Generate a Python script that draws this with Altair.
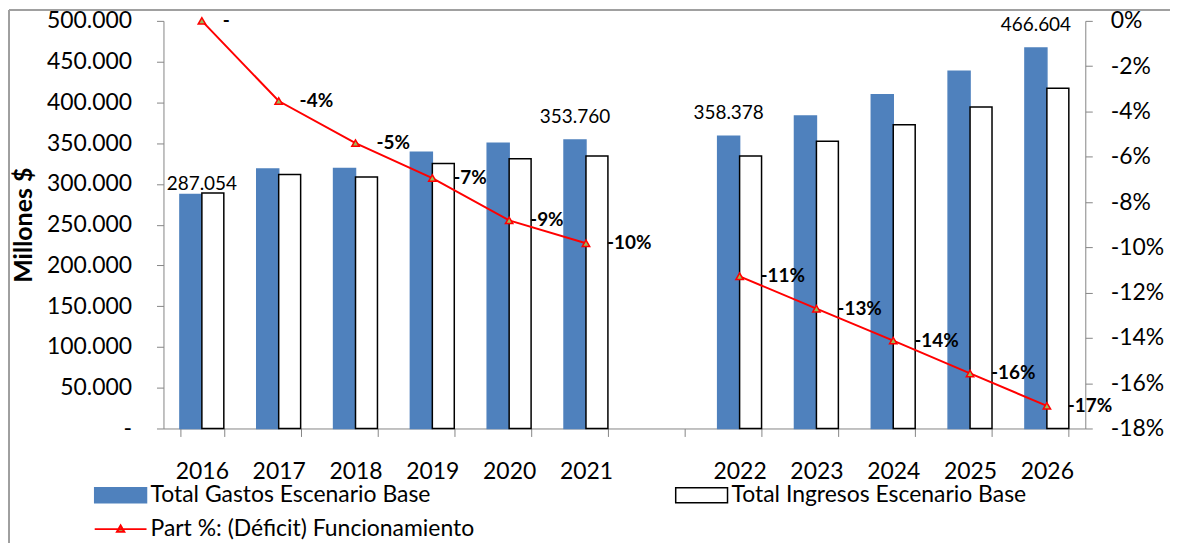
import altair as alt
import pandas as pd

# ---------------- data ----------------
years = ["2016", "2017", "2018", "2019", "2020", "2021",
         "2022", "2023", "2024", "2025", "2026"]
gastos = [287054, 318200, 318900, 339000, 350000, 353760,
          358378, 383400, 409400, 438100, 466604]
ingresos = [288800, 311600, 308400, 325000, 330800, 334100,
            334100, 352400, 372700, 394400, 417300]
deficit_pct = [0.0, -3.54, -5.40, -6.94, -8.81, -9.82,
               -11.28, -12.71, -14.12, -15.57, -17.00]
deficit_labels = ["-", "-4%", "-5%", "-7%", "-9%", "-10%",
                  "-11%", "-13%", "-14%", "-16%", "-17%"]
periodo = ["hist"] * 6 + ["proy"] * 5
labeled_years = ["2021", "2022", "2026"]
first_label_year = "2016"
x_domain = years[:6] + ["gap"] + years[6:]
left_ticks = [0, 50000, 100000, 150000, 200000, 250000, 300000,
              350000, 400000, 450000, 500000]
right_ticks = [0, -0.02, -0.04, -0.06, -0.08, -0.10, -0.12,
               -0.14, -0.16, -0.18]

S_G = "Total Gastos  Escenario Base"
S_I = "Total Ingresos Escenario Base"
S_L = "Part %: (Déficit) Funcionamiento"

bars_df = pd.DataFrame({
    "anio": years * 2,
    "serie": [S_G] * len(years) + [S_I] * len(years),
    "valor": gastos + ingresos,
})
bars_df["texto"] = bars_df["valor"].map(lambda v: f"{v:,}".replace(",", "."))

line_df = pd.DataFrame({
    "anio": years,
    "pct": [p / 100 for p in deficit_pct],
    "etiqueta": deficit_labels,
    "periodo": periodo,
    "linea": [S_L] * len(years),
})

# ---------------- style ----------------
FONT = "Lato"
BLUE = "#4F81BD"
GRAY = "#868686"

x_enc = alt.X(
    "anio:N",
    scale=alt.Scale(domain=x_domain, paddingInner=0.4286, paddingOuter=0.2143),
    axis=alt.Axis(
        title=None, labelAngle=0, tickBand="extent", tickSize=8,
        labelPadding=24, labelFont=FONT, labelFontSize=23, labelColor="black",
        domainColor=GRAY, tickColor=GRAY, grid=False,
        labelExpr="datum.value == 'gap' ? '' : datum.value",
    ),
)

y_left = alt.Y(
    "valor:Q",
    scale=alt.Scale(domain=[0, 500000], nice=False),
    axis=alt.Axis(
        title="Millones $", titleFont=FONT, titleFontSize=25, titleFontWeight="bold",
        titleColor="black", titlePadding=10,
        values=left_ticks, tickSize=7, labelPadding=25, grid=False,
        labelFont=FONT, labelFontSize=23, labelColor="black",
        domainColor=GRAY, tickColor=GRAY,
        labelExpr="datum.value == 0 ? '-' : replace(format(datum.value, ','), ',', '.')",
    ),
)

y_right = alt.Y(
    "pct:Q",
    scale=alt.Scale(domain=[-0.18, 0], nice=False),
    axis=alt.Axis(
        title=None, orient="right", values=right_ticks, tickSize=7,
        labelPadding=18, grid=False, labelFont=FONT, labelFontSize=23,
        labelColor="black", domainColor=GRAY, tickColor=GRAY,
        labelExpr="toString(round(datum.value * 100)) + '%'",
    ),
)

xoff = alt.XOffset("serie:N", scale=alt.Scale(domain=[S_G, S_I], paddingInner=0, paddingOuter=0))

bar_legend = alt.Legend(
    title=None, orient="none", legendX=-70, legendY=449, direction="horizontal",
    columns=2, columnPadding=237, padding=0,
    symbolType="M-1,-0.29H1V0.29H-1Z", symbolSize=2704, symbolStrokeWidth=1.5,
    symbolStrokeColor=alt.ExprRef(f"datum.value == '{S_I}' ? 'black' : '{BLUE}'"),
    labelFont=FONT, labelFontSize=23, labelColor="black", labelOffset=3, labelLimit=0,
)

line_legend = alt.Legend(
    title=None, orient="none", legendX=-70, legendY=483, padding=0,
    symbolType="M-1,0H1M-0.14,0.1L0,-0.14L0.14,0.1Z", symbolSize=2704,
    symbolStrokeWidth=2, symbolFillColor="#9BBB59",
    labelFont=FONT, labelFontSize=23, labelColor="black", labelOffset=3, labelLimit=0,
)

bars = alt.Chart(bars_df).mark_bar(strokeWidth=1.5).encode(
    x=x_enc,
    xOffset=xoff,
    y=y_left,
    fill=alt.Fill("serie:N", scale=alt.Scale(domain=[S_G, S_I], range=[BLUE, "white"]),
                  legend=bar_legend),
    stroke=alt.condition(alt.datum.serie == S_I, alt.value("black"), alt.value(BLUE)),
)

bar_labels = alt.Chart(bars_df).transform_filter(
    alt.FieldEqualPredicate(field="serie", equal=S_G)
).transform_filter(
    alt.FieldOneOfPredicate(field="anio", oneOf=labeled_years)
).mark_text(font=FONT, fontSize=19, baseline="alphabetic", dy=-17, color="black").encode(
    x=x_enc, xOffset=xoff, y=y_left, text="texto:N"
)

first_label = alt.Chart(bars_df).transform_filter(
    alt.FieldEqualPredicate(field="serie", equal=S_G)
).transform_filter(
    alt.FieldEqualPredicate(field="anio", equal=first_label_year)
).mark_text(font=FONT, fontSize=19, baseline="alphabetic", dy=-4, color="black").encode(
    x=x_enc, y=y_left, text="texto:N"
)

left = alt.layer(bars, bar_labels, first_label)

line = alt.Chart(line_df).mark_line(strokeWidth=2).encode(
    x=x_enc, y=y_right,
    stroke=alt.Stroke("linea:N", scale=alt.Scale(domain=[S_L], range=["#FF0000"]),
                      legend=line_legend),
    detail="periodo:N",
)

points = alt.Chart(line_df).mark_point(
    shape="triangle-up", size=55, filled=True, fill="#9BBB59", stroke="#FF0000",
    strokeWidth=1.5, opacity=1,
).encode(x=x_enc, y=y_right)

line_labels = alt.Chart(line_df).mark_text(
    align="left", baseline="middle", dx=21, font=FONT, fontWeight="bold",
    fontSize=19, color="black",
).encode(x=x_enc, y=y_right, text="etiqueta:N")

right = alt.layer(line, points, line_labels)

frame_left = alt.Chart(line_df).mark_rule(color="#A0A0A0", strokeWidth=1.5).encode(
    x=alt.value(-155), y=alt.value(-11), y2=alt.value(530)
)
frame_top = alt.Chart(line_df).mark_rule(color="#A0A0A0", strokeWidth=1.5).encode(
    x=alt.value(-155), x2=alt.value(1010), y=alt.value(-11)
)

chart = alt.layer(left, right, frame_left, frame_top).resolve_scale(
    y="independent", stroke="independent"
).properties(
    width=925, height=409,
    padding={"left": 156, "top": 12, "right": 85, "bottom": 114},
    autosize=alt.AutoSizeParams(type="none"),
).configure_view(stroke=None)

chart.save("out.html", embed_options={"renderer": "svg", "actions": False})
